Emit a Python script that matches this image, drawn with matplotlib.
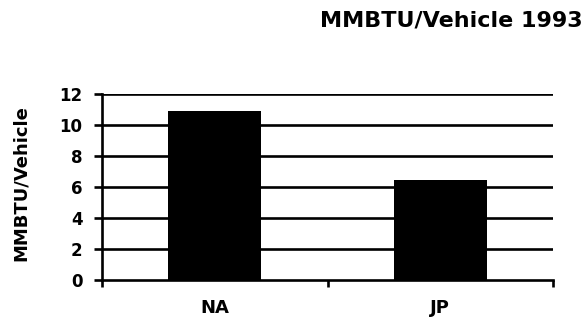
import matplotlib
matplotlib.use("Agg")
import matplotlib.pyplot as plt

categories = ["NA", "JP"]
values = [10.9, 6.45]
yticks = [0, 2, 4, 6, 8, 10, 12]
title = "MMBTU/Vehicle 1993"
ylabel = "MMBTU/Vehicle"

plt.rcParams['font.family'] = ['DejaVu Sans']
plt.rcParams['font.weight'] = 'bold'

W, H = 586, 321
fig = plt.figure(figsize=(W / 100, H / 100), dpi=100)
ax = fig.add_axes([102/W, 1 - 280/H, (553-102)/W, (280-94)/H])

x = list(range(len(categories)))
ax.bar(x, values, width=0.414, color='black', zorder=3)
for v in yticks[1:]:
    ax.axhline(v, color='black', lw=1.9, zorder=2)

ax.set_xlim(-0.5, len(categories) - 0.5)
ax.set_ylim(0, 12)
ax.set_yticks(yticks)
ax.set_yticklabels([str(v) for v in yticks], fontsize=12, fontweight='bold')
ax.tick_params(axis='y', direction='out', length=6, width=1.9, pad=8)

ax.set_xticks(x)
ax.set_xticklabels(categories, fontsize=13, fontweight='bold')
ax.tick_params(axis='x', which='major', length=0, pad=13.5)
ax.set_xticks([-0.5, 0.5, 1.5], minor=True)
ax.tick_params(axis='x', which='minor', direction='out', length=5, width=1.9)

for s in ['top', 'right']:
    ax.spines[s].set_visible(False)
for s in ['left', 'bottom']:
    ax.spines[s].set_linewidth(1.9)

fig.text(21/W, 1 - 183.5/H, ylabel, rotation=90, ha='center', va='center',
         fontsize=13, fontweight='bold')

fig.text(583/W, 1 - 21/H, title, ha='right', va='center', fontsize=16, fontweight='bold')

fig.savefig("out.png", dpi=100)
